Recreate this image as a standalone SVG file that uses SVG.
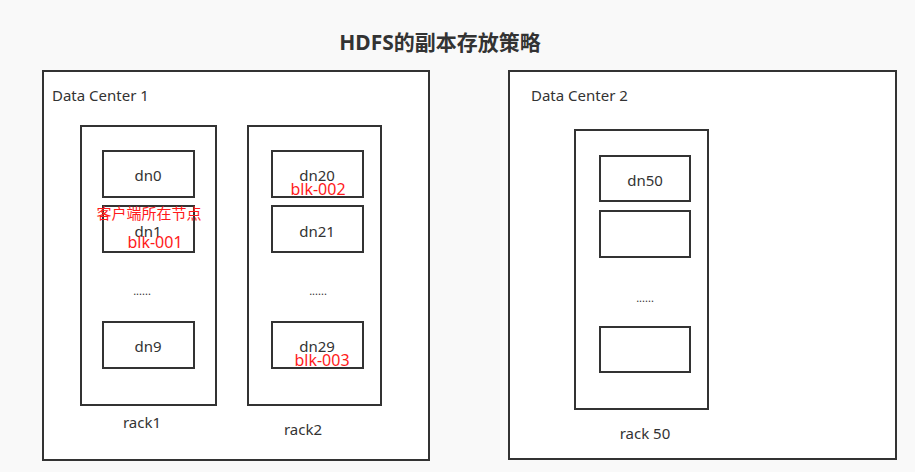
<svg xmlns="http://www.w3.org/2000/svg" width="915" height="472" viewBox="0 0 915 472">
<style>
.bg{fill:#f9f9f9}
.box{fill:#fff;stroke:#333;stroke-width:2}
.rack{fill:none;stroke:#333;stroke-width:2}
.node{fill:#fff;stroke:#333;stroke-width:2}
.t{font-family:"Noto Sans","Noto Sans CJK SC",sans-serif;fill:#333;font-size:15px}
.lbl{font-size:15px}
.dots{font-size:11px}
.red{fill:#ff1a1a;font-family:"Noto Sans","Noto Sans CJK SC",sans-serif;font-size:16px}
.cn{font-size:15px}
.title{font-family:"Noto Sans","Noto Sans CJK SC",sans-serif;font-weight:bold;font-size:21px;fill:#333}
</style>
<rect class="bg" x="0" y="0" width="915" height="472"/>
<text class="title" x="440" y="50" text-anchor="middle">HDFS的副本存放策略</text>

<g id="dc1">
<rect class="box" x="43" y="71" width="386" height="389"/>
<text class="t lbl" x="52" y="101">Data Center 1</text>
</g>
<g id="rack1">
<rect class="rack" x="81" y="126" width="135" height="279"/>
<text class="t" x="142" y="428" text-anchor="middle">rack1</text>
<text class="t dots" x="142" y="295" text-anchor="middle">......</text>
</g>
<g id="dn0">
<rect class="node" x="103" y="151" width="91" height="46"/>
<text class="t" x="148" y="181" text-anchor="middle">dn0</text>
</g>
<g id="dn1">
<rect class="node" x="103" y="206" width="91" height="46"/>
<text class="t" x="148" y="237" text-anchor="middle">dn1</text>
<text class="red cn" x="149" y="219" text-anchor="middle">客户端所在节点</text>
<text class="red" x="155" y="248" text-anchor="middle">blk-001</text>
</g>
<g id="dn9">
<rect class="node" x="103" y="322" width="91" height="46"/>
<text class="t" x="148" y="352" text-anchor="middle">dn9</text>
</g>

<g id="rack2">
<rect class="rack" x="248" y="126" width="133" height="279"/>
<text class="t" x="303" y="435" text-anchor="middle">rack2</text>
<text class="t dots" x="318" y="295" text-anchor="middle">......</text>
</g>
<g id="dn20">
<rect class="node" x="272" y="151" width="91" height="46"/>
<text class="t" x="317" y="181" text-anchor="middle">dn20</text>
<text class="red" x="318" y="195" text-anchor="middle">blk-002</text>
</g>
<g id="dn21">
<rect class="node" x="272" y="206" width="91" height="46"/>
<text class="t" x="317" y="237" text-anchor="middle">dn21</text>
</g>
<g id="dn29">
<rect class="node" x="272" y="322" width="91" height="46"/>
<text class="t" x="317" y="352" text-anchor="middle">dn29</text>
<text class="red" x="322" y="366" text-anchor="middle">blk-003</text>
</g>

<g id="dc2">
<rect class="box" x="509" y="71" width="387" height="388"/>
<text class="t lbl" x="531" y="101">Data Center 2</text>
</g>
<g id="rack50">
<rect class="rack" x="575" y="130" width="133" height="279"/>
<text class="t" x="645" y="439" text-anchor="middle">rack 50</text>
<text class="t dots" x="645" y="302" text-anchor="middle">......</text>
</g>
<g id="dn50">
<rect class="node" x="600" y="156" width="90" height="45"/>
<text class="t" x="645" y="186" text-anchor="middle">dn50</text>
</g>
<g id="dn51">
<rect class="node" x="600" y="211" width="90" height="46"/>
</g>
<g id="dn59">
<rect class="node" x="600" y="327" width="90" height="45"/>
</g>
<g id="connectors"></g>
</svg>
